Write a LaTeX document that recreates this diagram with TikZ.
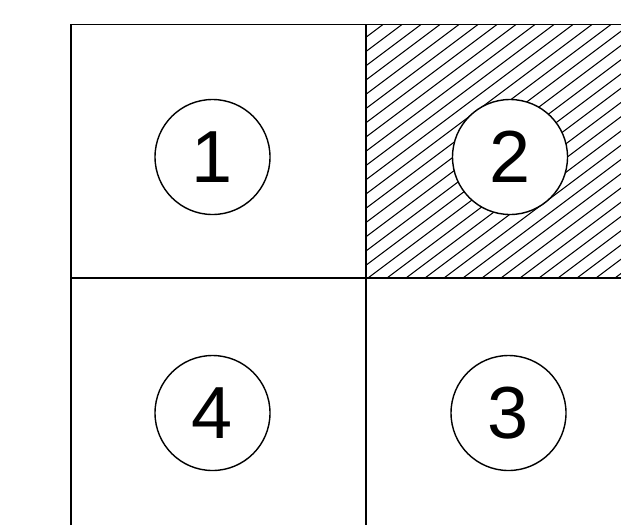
\documentclass[tikz,border=0pt]{standalone}
\usepackage{fontspec}
\setmainfont{Liberation Sans}
\begin{document}
\begin{tikzpicture}[
    grid/.style  ={draw=black, line width=1pt},
    zone/.style  ={circle, draw=black, line width=0.8pt, fill=white,
                   minimum size=2.3cm, inner sep=0pt,
                   font=\fontsize{42}{42}\selectfont},
    hatch/.style ={black, line width=0.6pt}
  ]
  %-----------------  Marco de la imagen  --------------------
  \useasboundingbox (0,0) rectangle (12.42,-10.5);
  \clip (0,0) rectangle (12.42,-10.5);
  \fill[white] (0,0) rectangle (12.42,-10.5);

  \def\xl{1.42}    % borde izquierdo
  \def\xm{7.32}    % linea vertical central
  \def\yt{-0.49}   % borde superior
  \def\ym{-5.56}   % linea horizontal central

  %-----------------  Rayado de la zona 2  --------------------
  \begin{scope}
    \clip (\xm,\yt) rectangle (12.42,\ym);
    \foreach \i in {0,...,32}
      \draw[hatch] (\xm-6.8+\i*0.38,\ym) -- ++(6.8,5.1);
  \end{scope}

  %-----------------  Cuadricula  --------------------
  \draw[grid] (\xl,-10.5) -- (\xl,\yt) -- (12.42,\yt);
  \draw[grid] (\xm,\yt) -- (\xm,-10.5);
  \draw[grid] (\xl,\ym) -- (12.42,\ym);

  %-----------------  Zonas numeradas  --------------------
  \node[zone] (z1) at (4.25,-3.14)  {1};
  \node[zone] (z2) at (10.2,-3.14)  {2};
  \node[zone] (z4) at (4.25,-8.26)  {4};
  \node[zone] (z3) at (10.17,-8.26) {3};
\end{tikzpicture}
\end{document}
